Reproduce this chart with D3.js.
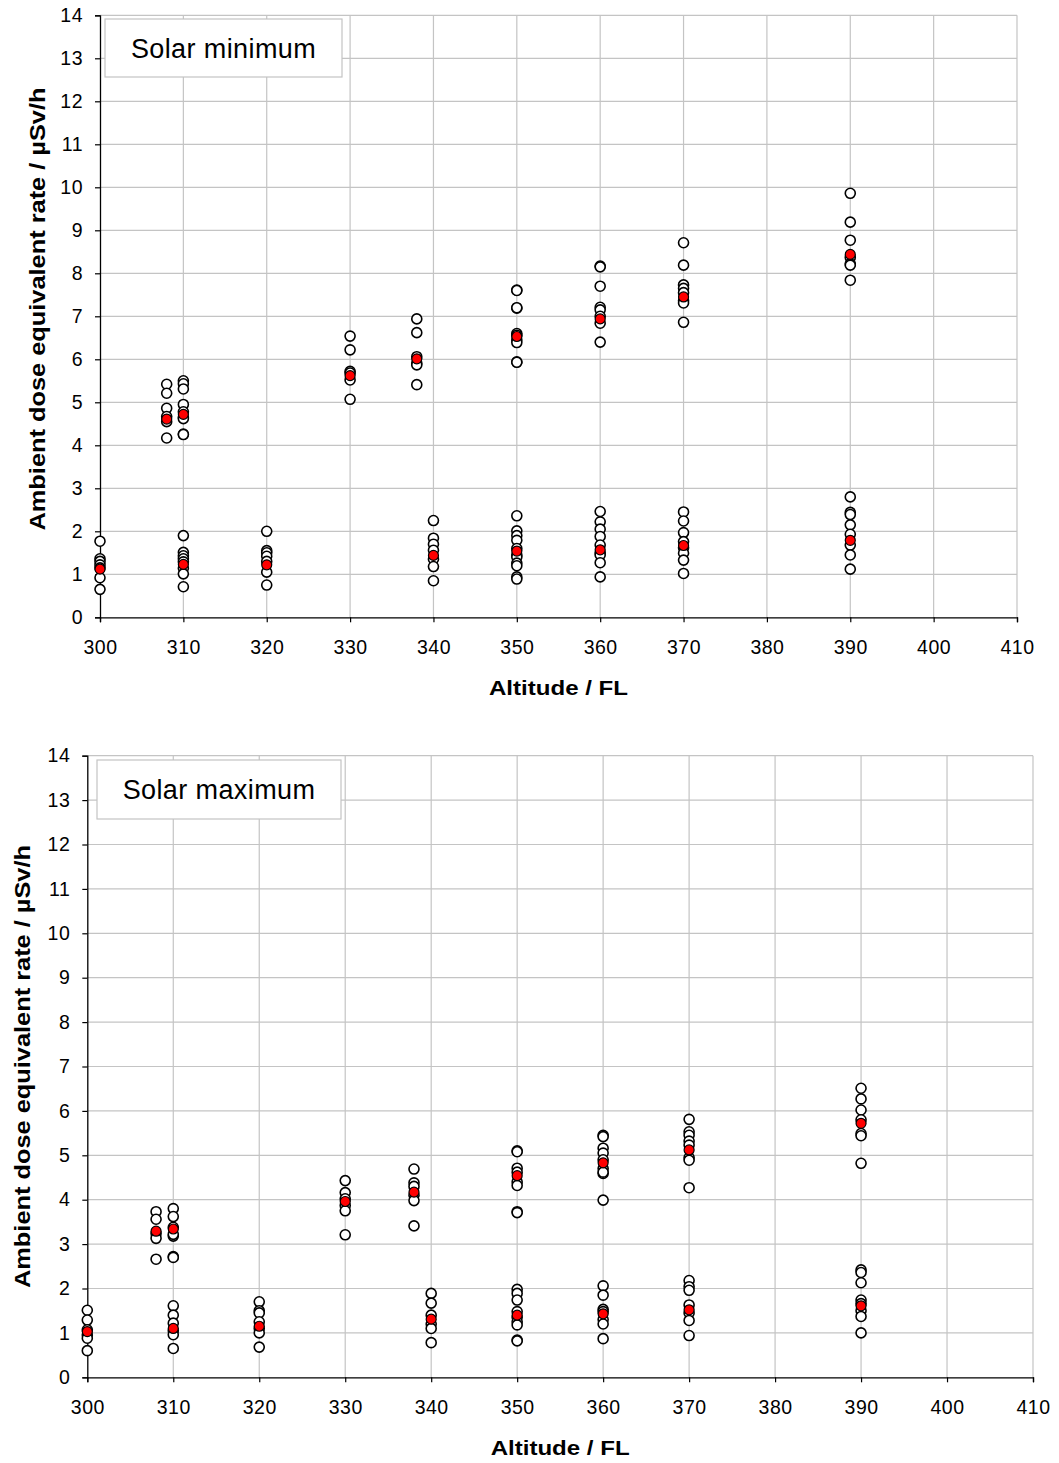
<!DOCTYPE html>
<html><head><meta charset="utf-8">
<script src="https://cdn.jsdelivr.net/npm/d3@7"></script>
<style>body{margin:0;background:#fff}svg{display:block}text{font-family:"Liberation Sans",Arial,sans-serif}</style>
</head><body>
<script>
// ---------- DATA ----------
const xTicks = [300,310,320,330,340,350,360,370,380,390,400,410];
const yTicks = [0,1,2,3,4,5,6,7,8,9,10,11,12,13,14];

// Solar minimum: individual flights (white) per altitude group, and group mean (red)
const minAlt = [300,308,310,310,320,330,338,340,350,350,360,360,370,370,390,390];
const minValues = [
  [1.77,1.36,1.30,1.22,1.15,0.92,0.65],
  [5.42,5.21,4.86,4.67,4.55,4.17],
  [5.50,5.43,5.31,4.95,4.78,4.65,4.62,4.26,4.25],
  [1.90,1.51,1.43,1.36,1.29,1.14,1.01,0.71],
  [2.00,1.55,1.50,1.42,1.30,1.05,0.75],
  [6.54,6.22,5.72,5.68,5.52,5.07],
  [6.94,6.62,6.06,5.91,5.87,5.41],
  [2.25,1.84,1.70,1.56,1.35,1.18,0.85],
  [7.61,7.60,7.19,7.20,6.60,6.56,6.45,6.39,5.94,5.93],
  [2.36,2.01,1.90,1.79,1.60,1.45,1.40,1.26,1.20,0.94,0.89],
  [8.17,8.15,7.70,7.21,7.15,7.00,6.84,6.40],
  [2.46,2.22,2.05,1.88,1.68,1.50,1.45,1.27,0.94],
  [8.71,8.19,7.73,7.65,7.55,7.36,7.31,6.86],
  [2.45,2.24,1.97,1.76,1.62,1.49,1.33,1.02],
  [9.86,9.19,8.77,8.37,8.22,8.19,7.84],
  [2.80,2.44,2.39,2.15,1.93,1.68,1.45,1.12]
];
const minMean = [1.12,4.61,4.72,1.23,1.22,5.62,6.01,1.44,6.53,1.54,6.94,1.57,7.45,1.67,8.44,1.79];

// Solar maximum
const maxAlt = [300,308,310,310,320,330,338,340,350,350,360,360,370,370,390,390];
const maxValues = [
  [1.51,1.29,1.07,0.95,0.88,0.60],
  [3.73,3.56,3.24,3.13,2.66],
  [3.80,3.62,3.38,3.18,3.22,2.72,2.70],
  [1.61,1.40,1.22,1.05,0.96,0.65],
  [1.70,1.50,1.45,1.25,1.10,1.00,0.68],
  [4.43,4.16,4.02,3.87,3.75,3.21],
  [4.69,4.38,4.30,4.10,3.98,3.41],
  [1.89,1.67,1.40,1.20,1.10,0.78],
  [5.10,5.08,4.71,4.62,4.40,4.32,3.73,3.71],
  [1.98,1.89,1.74,1.48,1.35,1.25,1.18,0.84,0.82],
  [5.45,5.42,5.16,5.05,4.90,4.70,4.59,4.62,3.99],
  [2.06,1.85,1.53,1.48,1.30,1.20,0.87],
  [5.81,5.53,5.45,5.32,5.23,4.95,4.89,4.27],
  [2.18,2.04,1.96,1.63,1.45,1.28,0.94],
  [6.51,6.27,6.02,5.80,5.49,5.44,4.82],
  [2.42,2.36,2.13,1.74,1.66,1.50,1.37,1.00]
];
const maxMean = [1.03,3.29,3.34,1.10,1.15,3.96,4.17,1.31,4.54,1.40,4.83,1.43,5.12,1.52,5.72,1.61];

const panels = [
  {title:"Solar minimum", alt:minAlt, values:minValues, mean:minMean},
  {title:"Solar maximum", alt:maxAlt, values:maxValues, mean:maxMean}
];

// ---------- LAYOUT ----------
const W = 1059, H = 1463;
const layouts = [
  {left:100, right:1017, top:15.3, bottom:617.3, box:[105,19,237,58], xtitleY:695, ytitleX:45, ytitleC:309},
  {left:87.3, right:1033, top:755.7, bottom:1377.3, box:[97,760,244,59], xtitleY:1455, ytitleX:30, ytitleC:1066.5}
];

const svg = d3.select("body").append("svg").attr("width",W).attr("height",H);

panels.forEach((p,i) => {
  const L = layouts[i];
  const x = d3.scaleLinear().domain([300,410]).range([L.left, L.right]);
  const y = d3.scaleLinear().domain([0,14]).range([L.bottom, L.top]);
  const g = svg.append("g");

  // gridlines
  g.append("g").selectAll("line").data(xTicks.slice(1)).join("line")
    .attr("x1",d=>x(d)).attr("x2",d=>x(d)).attr("y1",L.top).attr("y2",L.bottom)
    .attr("stroke","#c4c4c4").attr("stroke-width",1.2);
  g.append("g").selectAll("line").data(yTicks.slice(1)).join("line")
    .attr("x1",L.left).attr("x2",L.right).attr("y1",d=>y(d)).attr("y2",d=>y(d))
    .attr("stroke","#c4c4c4").attr("stroke-width",1.2);

  // axes
  const xa = g.append("g").attr("transform",`translate(0,${L.bottom})`)
    .call(d3.axisBottom(x).tickValues(xTicks).tickSize(5).tickPadding(18).tickFormat(d3.format("d")));
  const ya = g.append("g").attr("transform",`translate(${L.left},0)`)
    .call(d3.axisLeft(y).tickValues(yTicks).tickSize(5).tickPadding(12).tickFormat(d3.format("d")));
  [xa,ya].forEach(a=>{
    a.select(".domain").attr("stroke","#000").attr("stroke-width",1.3);
    a.selectAll(".tick line").attr("stroke","#000").attr("stroke-width",1.2);
    a.selectAll(".tick text").attr("font-size",19.5).attr("fill","#000")
      .attr("letter-spacing","0.5px")
      .attr("font-family",'"Liberation Sans",Arial,sans-serif');
  });

  // axis titles
  g.append("text").attr("x",(L.left+L.right)/2).attr("y",L.xtitleY)
    .attr("text-anchor","middle").attr("font-weight","bold").attr("font-size",21)
    .attr("textLength",139).attr("lengthAdjust","spacingAndGlyphs")
    .text("Altitude / FL");
  g.append("text")
    .attr("transform",`translate(${L.ytitleX},${L.ytitleC}) rotate(-90)`)
    .attr("text-anchor","middle").attr("font-weight","bold").attr("font-size",21.5)
    .attr("textLength",443).attr("lengthAdjust","spacingAndGlyphs")
    .text("Ambient dose equivalent rate / µSv/h");

  // label box
  const [bx,by,bw,bh] = L.box;
  g.append("rect").attr("x",bx).attr("y",by).attr("width",bw).attr("height",bh)
    .attr("fill","#fff").attr("stroke","#c4c4c4").attr("stroke-width",1.2);
  g.append("text").attr("x",bx+bw/2).attr("y",by+bh/2+9.5).attr("text-anchor","middle")
    .attr("font-size",27).attr("letter-spacing","0.4px").text(p.title);

  // points
  const pts = [];
  p.alt.forEach((a,k)=>p.values[k].forEach(v=>pts.push({a,v})));
  g.append("g").selectAll("circle").data(pts).join("circle")
    .attr("cx",d=>x(d.a)).attr("cy",d=>y(d.v)).attr("r",5)
    .attr("fill","#fff").attr("stroke","#000").attr("stroke-width",1.6);
  g.append("g").selectAll("circle").data(p.alt.map((a,k)=>({a,v:p.mean[k]}))).join("circle")
    .attr("cx",d=>x(d.a)).attr("cy",d=>y(d.v)).attr("r",5)
    .attr("fill","#ff0000").attr("stroke","#000").attr("stroke-width",1.2);
});
</script>
</body></html>
